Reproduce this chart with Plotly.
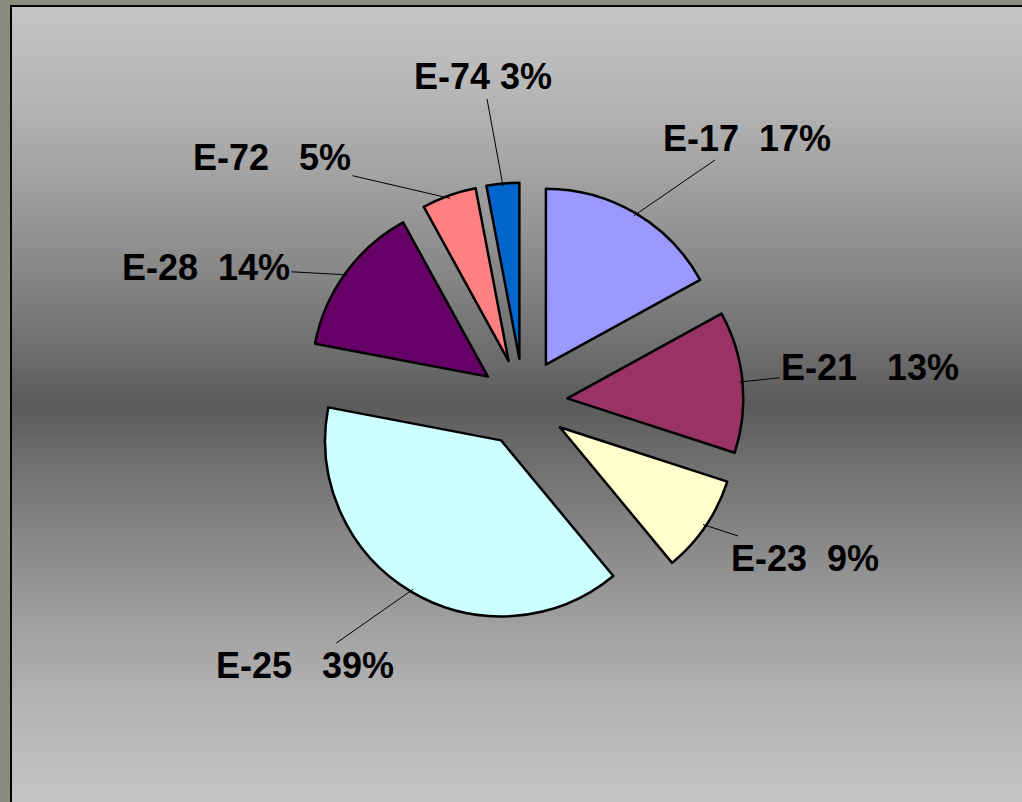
import math
import plotly.graph_objects as go

# ---- data ----
categories = ["E-17", "E-21", "E-23", "E-25", "E-28", "E-72", "E-74"]
shares = [17, 13, 9, 39, 14, 5, 3]
slice_colors = ["#9999FF", "#993366", "#FFFFCC", "#CCFFFF", "#660066", "#FF8080", "#0066CC"]
label_gaps = [2, 3, 2, 3, 2, 3, 1]          # spaces between name and percent

# ---- layout constants ----
W, H = 1022, 802
CX, CY = 523.5, 402.5      # pie centre (px)
R = 176                    # pie radius (px)
PULL = 0.25
label_pos = [(747, 138), (870, 368), (805, 558), (305, 665), (206, 267), (272, 157), (483, 77)]
FONT = "Liberation Sans Narrow, Arial Narrow, Liberation Sans, Arial, sans-serif"

half = R * (1 + PULL)
dom_x = [(CX - half) / W, (CX + half) / W]
dom_y = [1 - (CY + half) / H, 1 - (CY - half) / H]

fig = go.Figure()
fig.add_trace(go.Pie(
    labels=categories,
    values=shares,
    sort=False,
    direction="clockwise",
    rotation=0,
    pull=[PULL] * len(shares),
    marker=dict(colors=slice_colors, line=dict(color="black", width=2.5)),
    textinfo="none",
    hoverinfo="label+percent",
    showlegend=False,
    domain=dict(x=dom_x, y=dom_y),
))

# ---- background gradient (light - dark - light) ----
shapes = []
top, bottom, left = 7, H, 12
n = 265
step = (bottom - top) / n
mid = (top + bottom) / 2
for i in range(n):
    y0 = top + i * step
    y1 = y0 + step + 0.6
    d = abs((y0 + step / 2) - mid) / ((bottom - top) / 2)
    f = 1 - (1 - min(d, 1)) ** 1.35
    v = int(round(91 + (195 - 91) * f))
    shapes.append(dict(type="rect", xref="paper", yref="paper", layer="below",
                       x0=left / W, x1=1.0, y0=1 - y1 / H, y1=1 - y0 / H,
                       fillcolor=f"rgb({v},{v},{v})", line=dict(width=0)))
# frame lines
shapes.append(dict(type="line", xref="paper", yref="paper", layer="below",
                   x0=11 / W, x1=11 / W, y0=0, y1=1 - 5 / H, line=dict(color="black", width=2)))
shapes.append(dict(type="line", xref="paper", yref="paper", layer="below",
                   x0=10 / W, x1=1.0, y0=1 - 6 / H, y1=1 - 6 / H, line=dict(color="black", width=2)))

# ---- labels with leader lines ----
annotations = []
total = sum(shares)
cum = 0
for name, v, gap, (lx, ly) in zip(categories, shares, label_gaps, label_pos):
    theta = math.radians(360 * (cum + v / 2) / total)
    cum += v
    rr = R * (1 + PULL) - 3
    tx = CX + rr * math.sin(theta)
    ty = CY - rr * math.cos(theta)
    text = f"{name}{chr(160) * gap}{v}%"
    annotations.append(dict(
        x=tx / W, y=1 - ty / H, xref="paper", yref="paper",
        ax=lx - tx, ay=ly - ty, axref="pixel", ayref="pixel",
        text=text, showarrow=True, arrowhead=0, arrowwidth=1, arrowcolor="black",
        font=dict(family=FONT, size=36, color="black", weight="bold"),
        xanchor="center", yanchor="middle",
    ))

fig.update_layout(
    width=W, height=H,
    margin=dict(l=0, r=0, t=0, b=0),
    paper_bgcolor="#8C8C7C",
    plot_bgcolor="rgba(0,0,0,0)",
    shapes=shapes,
    annotations=annotations,
)

fig.write_html(
    "out.html",
    config={"displayModeBar": False},
    post_script="document.body.style.margin='0';document.body.style.overflow='hidden';",
)
